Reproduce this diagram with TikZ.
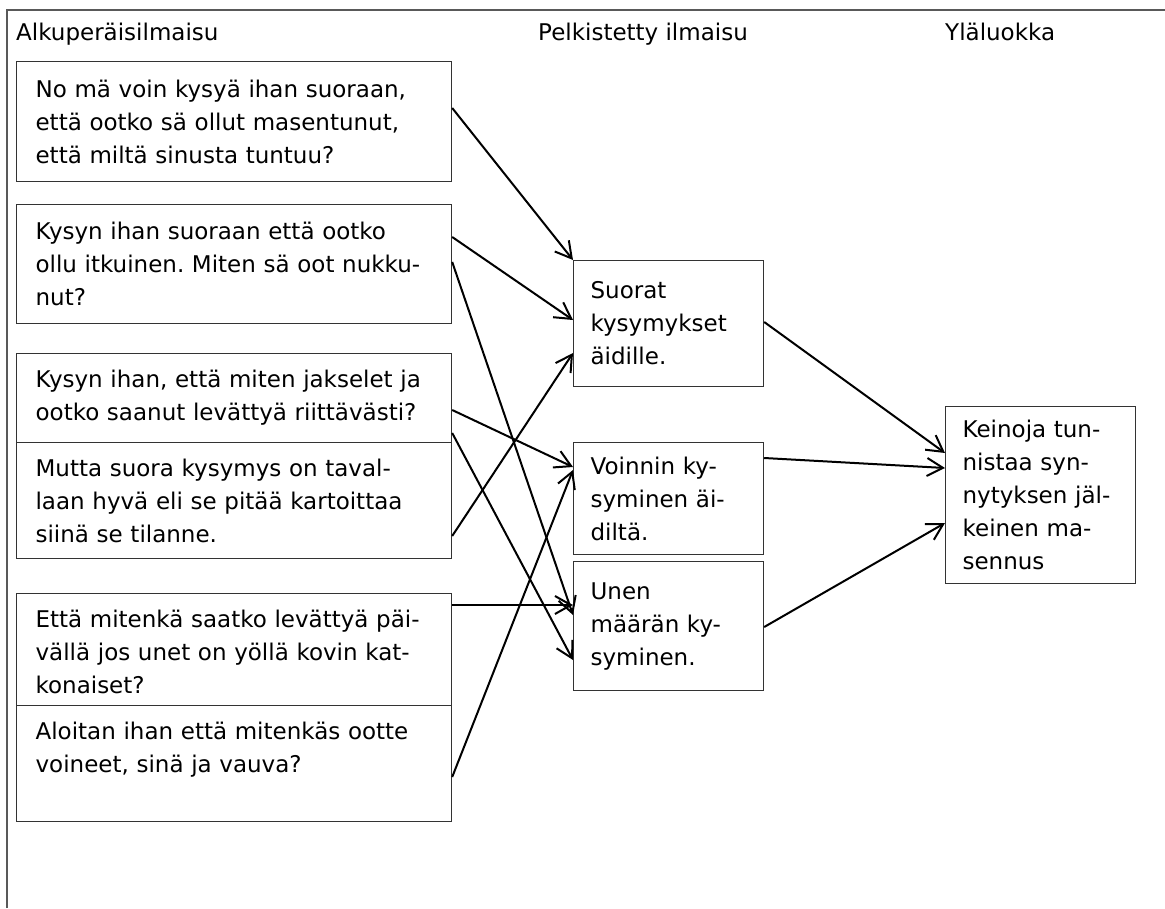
\documentclass[tikz,border=0pt]{standalone}
\usepackage{fontspec}
\setmainfont{DejaVu Sans}
\frenchspacing
\usetikzlibrary{arrows.meta,calc}

\begin{document}
\begin{tikzpicture}[x=1pt, y=-1pt,
  txt/.style={font=\fontsize{23}{33}\selectfont},
  box/.style={txt, draw=black!80, line width=1.2pt, fill=white, anchor=north west, align=left, inner ysep=0pt},
  quote/.style={box, text width=397pt, inner xsep=19pt},
  code/.style={box, text width=156pt, inner xsep=17pt},
  head/.style={txt, anchor=base west, inner sep=0pt},
  arrow/.style={-{Straight Barb[length=16pt, width=18pt]}, line width=2pt},
  frame/.style={draw=black!65, line width=1.6pt}
]
\useasboundingbox (0,0) rectangle (1165,908);
% kehys ja sarakeotsikot
\draw[frame] (7,908) -- (7,10) -- (1165,10);
\node[head] (h1) at (16,40) {Alkuperäisilmaisu};
\node[head] (h2) at (538,40) {Pelkistetty ilmaisu};
\node[head] (h3) at (945,40) {Yläluokka};
% alkuperäiset ilmaisut
\node[quote, minimum height=120pt] (q1) at (16,61) {No mä voin kysyä ihan suoraan,\\että ootko sä ollut masentunut,\\että miltä sinusta tuntuu?};
\node[quote, minimum height=119pt] (q2) at (16,204) {Kysyn ihan suoraan että ootko\\ollu itkuinen. Miten sä oot nukku-\\nut?};
\node[quote, minimum height=117pt] (q3) at (16,353) {Kysyn ihan, että miten jakselet ja\\ootko saanut levättyä riittävästi?\\\mbox{}};
\node[quote, minimum height=116pt] (q4) at (16,442) {Mutta suora kysymys on taval-\\laan hyvä eli se pitää kartoittaa\\siinä se tilanne.};
\node[quote, minimum height=117pt] (q5) at (16,593) {Että mitenkä saatko levättyä päi-\\vällä jos unet on yöllä kovin kat-\\konaiset?};
\node[quote, minimum height=116pt] (q6) at (16,705) {Aloitan ihan että mitenkäs ootte\\voineet, sinä ja vauva?\\\mbox{}};
% pelkistetyt ilmaisut
\node[code, minimum height=126pt] (c1) at (573,260) {Suorat\\kysymykset\\äidille.};
\node[code, minimum height=112pt] (c2) at (573,442) {Voinnin ky-\\syminen äi-\\diltä.};
\node[code, minimum height=129pt] (c3) at (573,561) {Unen\\määrän ky-\\syminen.};
% yläluokka
\node[code, minimum height=177pt] (cat) at (945,406) {Keinoja tun-\\nistaa syn-\\nytyksen jäl-\\keinen ma-\\sennus};
% nuolet
\draw[arrow] ([yshift=-47pt]q1.north east) -- (c1.north west);
\draw[arrow] ([yshift=-33pt]q2.north east) -- ([yshift=-60pt]c1.north west);
\draw[arrow] ([yshift=-58pt]q2.north east) -- ([yshift=-54pt]c3.north west);
\draw[arrow] ([yshift=-57pt]q3.north east) -- ([yshift=-25pt]c2.north west);
\draw[arrow] ([yshift=-80pt]q3.north east) -- ([yshift=-99pt]c3.north west);
\draw[arrow] ([yshift=-94pt]q4.north east) -- ([yshift=-93pt]c1.north west);
\draw[arrow] ([yshift=-12pt]q5.north east) -- ([yshift=-44pt]c3.north west);
\draw[arrow] ([yshift=-72pt]q6.north east) -- ([yshift=-28pt]c2.north west);
\draw[arrow] ([yshift=-62pt]c1.north east) -- ([yshift=-47pt]cat.north west);
\draw[arrow] ([yshift=-16pt]c2.north east) -- ([yshift=-62pt]cat.north west);
\draw[arrow] ([yshift=-66pt]c3.north east) -- ([yshift=-117pt]cat.north west);
\end{tikzpicture}
\end{document}
